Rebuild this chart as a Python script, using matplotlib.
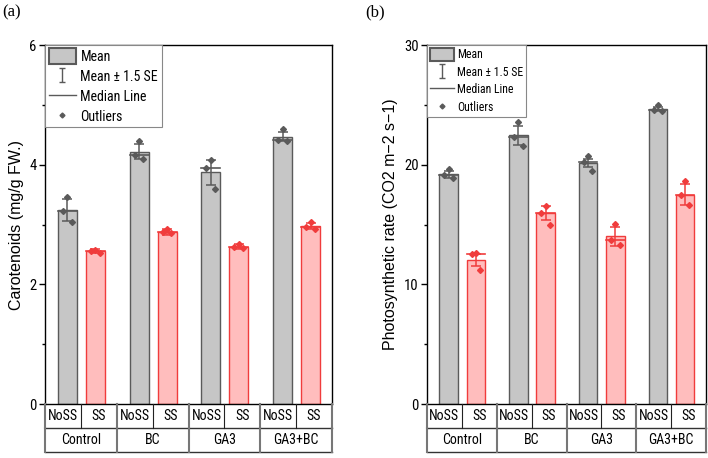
import numpy as np
import matplotlib
matplotlib.use("Agg")
import matplotlib.pyplot as plt
from matplotlib import font_manager
from matplotlib.patches import Patch
from matplotlib.lines import Line2D
from matplotlib.path import Path

# data (3 replicates per bar)
groups = ["Control", "BC", "GA3", "GA3+BC"]
stress = ["NoSS", "SS"]

car_nos_mean = [3.24, 4.22, 3.87, 4.47]
car_nos_err = [0.18, 0.13, 0.21, 0.07]
car_nos_pts = [[3.46, 3.23, 3.04], [4.40, 4.16, 4.10], [4.08, 3.94, 3.59], [4.60, 4.42, 4.40]]
car_ss_mean = [2.56, 2.88, 2.63, 2.97]
car_ss_err = [0.03, 0.05, 0.04, 0.05]
car_ss_pts = [[2.58, 2.56, 2.53], [2.92, 2.88, 2.85], [2.67, 2.62, 2.60], [3.04, 2.96, 2.92]]

photo_nos_mean = [19.2, 22.45, 20.15, 24.65]
photo_nos_err = [0.3, 0.8, 0.35, 0.2]
photo_nos_pts = [[19.6, 19.1, 18.9], [23.6, 22.3, 21.6], [20.7, 20.2, 19.5], [25.0, 24.6, 24.5]]
photo_ss_mean = [12.05, 15.95, 14.0, 17.5]
photo_ss_err = [0.5, 0.6, 0.8, 0.9]
photo_ss_pts = [[12.6, 12.5, 11.2], [16.55, 16.0, 15.0], [15.05, 13.7, 13.25], [18.65, 17.45, 16.6]]

# pick a condensed face if one is installed
installed = {f.name for f in font_manager.fontManager.ttflist}
narrow_pick = [f for f in ["Liberation Sans Narrow", "Roboto Condensed", "Open Sans Condensed",
                           "Arial Narrow", "DejaVu Sans Condensed"] if f in installed]
NARROW = narrow_pick[:1] + ["Liberation Sans", "DejaVu Sans"]
CONDENSED = bool(narrow_pick)
SANS = ["Liberation Sans", "DejaVu Sans"]
SERIF = ["Liberation Serif", "DejaVu Serif"]

GREY_FACE, GREY_EDGE = "#c6c6c6", "#5a5a5a"
RED_FACE, RED_EDGE = "#ffbdbd", "#f03c3c"

jitter = [0.0, -0.12, 0.12]
bar_w = 0.53

small = 1.0 if CONDENSED else 0.85

# I-shaped marker for the legend
ibar = Path([(-0.5, 1), (0.5, 1), (0, 1), (0, -1), (-0.5, -1), (0.5, -1)],
            [Path.MOVETO, Path.LINETO, Path.MOVETO, Path.LINETO, Path.MOVETO, Path.LINETO])


def draw_series(ax, xs, means, errs, pts, face, edge):
    ax.bar(xs, means, width=bar_w, color=face, edgecolor=edge, linewidth=1.0, zorder=2)
    for x, m, e, p in zip(xs, means, errs, pts):
        med = np.median(p)
        ax.plot([x - bar_w / 2, x + bar_w / 2], [med, med], color=edge, lw=1.2, zorder=3)
        ax.errorbar(x, m, yerr=e, color=edge, capsize=3.5, elinewidth=1.1,
                    capthick=1.1, fmt="none", zorder=4)
        for j, v in zip(jitter, sorted(p, reverse=True)):
            ax.plot(x + j, v, marker="D", ms=3, color=edge, ls="none", zorder=5)


def draw_panel(ax, tax, nos, ss, ymax, major, minor, ylabel, leg_fs):
    x_nos = [2 * g + 0.62 for g in range(len(groups))]
    x_ss = [2 * g + 1.40 for g in range(len(groups))]
    draw_series(ax, x_nos, *nos, GREY_FACE, GREY_EDGE)
    draw_series(ax, x_ss, *ss, RED_FACE, RED_EDGE)

    ax.set_xlim(0, 2 * len(groups))
    ax.set_ylim(0, ymax)
    ax.set_xticks([])
    ax.set_yticks(major)
    ax.set_yticks(minor, minor=True)
    ax.tick_params(axis="y", which="major", length=4, width=1, pad=2)
    ax.tick_params(axis="y", which="minor", length=2.5, width=1)
    for lab in ax.get_yticklabels():
        lab.set_family(NARROW)
        lab.set_fontsize(10.5 * small)
    for s in ax.spines.values():
        s.set_linewidth(1.0)
    ax.set_ylabel(ylabel, family=SANS, fontsize=11.5, labelpad=4)

    handles = [
        Patch(facecolor=GREY_FACE, edgecolor=GREY_EDGE, linewidth=1.5),
        Line2D([], [], marker=ibar, ms=10, mfc="none", mec=GREY_EDGE, mew=1, ls="none"),
        Line2D([], [], color=GREY_EDGE, lw=1),
        Line2D([], [], marker="D", ms=2.5, color=GREY_EDGE, ls="none"),
    ]
    leg = ax.legend(handles, ["Mean", "Mean \u00b1 1.5 SE", "Median Line", "Outliers"],
                    loc="upper left", bbox_to_anchor=(0, 1), borderaxespad=0,
                    fancybox=False, framealpha=1, edgecolor="#888888",
                    prop={"family": NARROW, "size": leg_fs * small},
                    handlelength=2.0, handleheight=1.3, handletextpad=0.3,
                    labelspacing=0.35, borderpad=0.25)
    leg.get_frame().set_linewidth(0.8)

    # category table below the axis
    n = 2 * len(groups)
    tax.set_xlim(0, n)
    tax.set_ylim(0, 2)
    tax.axis("off")
    for y in [0, 1]:
        tax.plot([0, n], [y, y], color="#333333", lw=1, clip_on=False)
    for x in range(n + 1):
        thick = x % 2 == 0
        tax.plot([x, x], [1, 2], color="#777777" if thick else "#222222",
                 lw=1.5 if thick else 0.8, clip_on=False)
    for g in range(len(groups) + 1):
        tax.plot([2 * g, 2 * g], [0, 1], color="#777777", lw=1.5, clip_on=False)
    for i in range(n):
        tax.text(i + 0.5, 1.5, stress[i % 2], ha="center", va="center",
                 family=NARROW, fontsize=10 * small)
    for g, name in enumerate(groups):
        tax.text(2 * g + 1, 0.5, name, ha="center", va="center",
                 family=NARROW, fontsize=10 * small)


fig = plt.figure(figsize=(7.08, 4.58), dpi=100)
ax_a = fig.add_axes([0.0636, 0.1179, 0.4054, 0.7838])
tax_a = fig.add_axes([0.0636, 0.0131, 0.4054, 0.1048])
ax_b = fig.add_axes([0.6031, 0.1179, 0.3941, 0.7838])
tax_b = fig.add_axes([0.6031, 0.0131, 0.3941, 0.1048])

draw_panel(ax_a, tax_a,
           (car_nos_mean, car_nos_err, car_nos_pts),
           (car_ss_mean, car_ss_err, car_ss_pts),
           6, [0, 2, 4, 6], [1, 3, 5], "Carotenoids (mg/g FW.)", 10)
draw_panel(ax_b, tax_b,
           (photo_nos_mean, photo_nos_err, photo_nos_pts),
           (photo_ss_mean, photo_ss_err, photo_ss_pts),
           30, [0, 10, 20, 30], [5, 15, 25], "Photosynthetic rate (CO2 m\u22122 s\u22121)", 8.5)

fig.text(0.003, 0.972, "(a)", family=SERIF, fontsize=12, va="center")
fig.text(0.516, 0.972, "(b)", family=SERIF, fontsize=12, va="center")

fig.savefig("out.png", dpi=100)
